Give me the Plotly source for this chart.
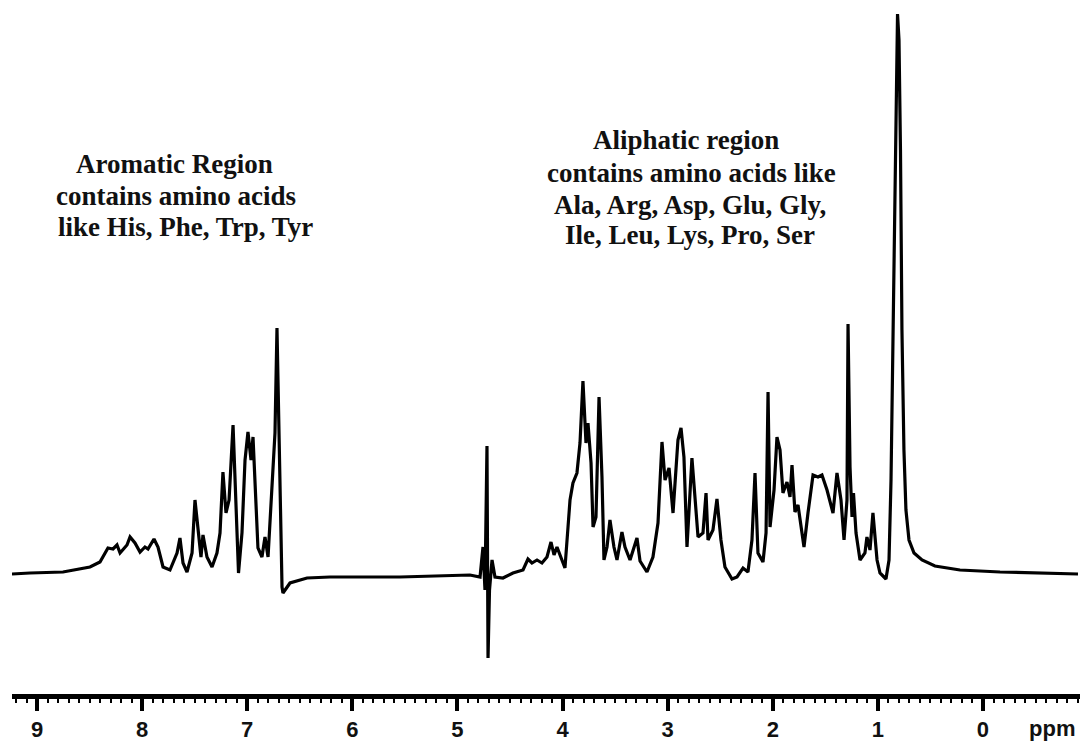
import plotly.graph_objects as go

# Chemical shift (ppm) and signal intensity (arbitrary units, baseline ~0)
ppm = [9.238, 9.067, 8.753, 8.496, 8.401, 8.325, 8.277, 8.239, 8.210, 8.144,
       8.115, 8.068, 8.020, 7.973, 7.944, 7.887, 7.849, 7.801, 7.735, 7.668,
       7.640, 7.611, 7.573, 7.525, 7.497, 7.468, 7.440, 7.421, 7.383, 7.335,
       7.288, 7.259, 7.231, 7.202, 7.173, 7.135, 7.097, 7.083, 7.050, 7.021,
       6.993, 6.964, 6.945, 6.926, 6.898, 6.860, 6.831, 6.802, 6.774, 6.736,
       6.717, 6.698, 6.669, 6.660, 6.593, 6.431, 6.213, 5.547, 4.881, 4.785,
       4.757, 4.738, 4.719, 4.709, 4.695, 4.671, 4.643, 4.567, 4.472, 4.376,
       4.329, 4.291, 4.243, 4.196, 4.148, 4.110, 4.081, 4.053, 4.005, 3.977,
       3.948, 3.929, 3.901, 3.863, 3.834, 3.806, 3.777, 3.758, 3.729, 3.710,
       3.682, 3.653, 3.625, 3.606, 3.577, 3.549, 3.511, 3.482, 3.435, 3.406,
       3.358, 3.292, 3.263, 3.197, 3.140, 3.092, 3.054, 3.025, 2.987, 2.949,
       2.902, 2.873, 2.845, 2.816, 2.769, 2.740, 2.711, 2.664, 2.635, 2.616,
       2.569, 2.531, 2.493, 2.455, 2.388, 2.340, 2.283, 2.236, 2.198, 2.169,
       2.141, 2.093, 2.064, 2.045, 2.026, 1.988, 1.960, 1.931, 1.903, 1.865,
       1.836, 1.817, 1.789, 1.760, 1.703, 1.665, 1.617, 1.570, 1.532, 1.484,
       1.456, 1.427, 1.389, 1.351, 1.322, 1.294, 1.284, 1.265, 1.246, 1.232,
       1.208, 1.170, 1.123, 1.104, 1.075, 1.047, 1.008, 0.980, 0.923, 0.894,
       0.875, 0.856, 0.837, 0.823, 0.813, 0.799, 0.785, 0.771, 0.752, 0.733,
       0.704, 0.656, 0.580, 0.457, 0.219, -0.162, -0.542, -0.904]

intensity = [-2, -1, 0, 5, 10, 24, 23, 27, 19, 27,
             35, 29, 20, 25, 23, 33, 25, 5, 2, 19,
             34, 9, 0, 19, 72, 39, 15, 37, 15, 5,
             19, 39, 100, 59, 72, 147, 39, -1, 39, 112,
             140, 112, 135, 85, 24, 15, 35, 15, 72, 139,
             244, 139, -15, -21, -11, -6, -5, -5, -3, -5,
             25, -18, 126, -86, -18, 12, -5, -6, -1, 2,
             13, 9, 12, 9, 15, 30, 17, 25, 12, 4,
             45, 72, 89, 99, 129, 191, 129, 149, 109, 45,
             55, 175, 95, 12, 25, 52, 25, 12, 40, 25,
             12, 34, 11, 0, 15, 49, 130, 92, 104, 59,
             132, 144, 115, 25, 114, 75, 35, 39, 79, 32,
             42, 73, 32, 5, -7, -5, 4, 0, 32, 99,
             19, 10, 39, 180, 45, 82, 135, 122, 79, 90,
             75, 107, 60, 67, 25, 59, 97, 95, 97, 82,
             72, 59, 99, 72, 32, 72, 248, 105, 55, 79,
             39, 12, 19, 35, 22, 59, 12, -1, -7, 12,
             92, 242, 422, 532, 558, 532, 422, 242, 122, 62,
             32, 19, 12, 6, 2, 0, -1, -2]

tick_vals = [9, 8, 7, 6, 5, 4, 3, 2, 1, 0]
tick_text = ["9", "8", "7", "6", "5", "4", "3", "2", "1", "0"]

aromatic_lines = ["Aromatic Region", "contains amino acids", "like His, Phe, Trp, Tyr"]
aliphatic_lines = ["Aliphatic region", "contains amino acids like",
                   "Ala, Arg, Asp, Glu, Gly,", "Ile, Leu, Lys, Pro, Ser"]

W, H = 1080, 745
ML, MR, MT, MB = 12, 0, 0, 51
PW, PH = W - ML - MR, H - MT - MB


def px(x):
    return (x - ML) / PW


def py(y):
    return (H - MB - y) / PH


fig = go.Figure()
fig.add_trace(go.Scatter(
    x=ppm, y=intensity, mode="lines",
    line=dict(color="black", width=3.2),
    hoverinfo="skip", showlegend=False,
))

annotations = []
text_font = dict(family="Liberation Serif", size=27, color="#111111")
for txt, cx, cy in zip(aromatic_lines, [174, 176, 185], [164, 196, 227]):
    annotations.append(dict(text="<b>" + txt + "</b>", x=px(cx), y=py(cy),
                            xref="paper", yref="paper", showarrow=False,
                            xanchor="center", yanchor="middle", font=text_font))
for txt, cx, cy in zip(aliphatic_lines, [686, 691, 690, 690], [140, 173, 205, 235]):
    annotations.append(dict(text="<b>" + txt + "</b>", x=px(cx), y=py(cy),
                            xref="paper", yref="paper", showarrow=False,
                            xanchor="center", yanchor="middle", font=text_font))
annotations.append(dict(text="<b>ppm</b>", x=px(1052), y=py(728),
                        xref="paper", yref="paper", showarrow=False,
                        xanchor="center", yanchor="middle",
                        font=dict(family="Liberation Sans", size=22, color="#111111")))

fig.update_layout(
    width=W, height=H,
    margin=dict(l=ML, r=MR, t=MT, b=MB),
    paper_bgcolor="white", plot_bgcolor="white",
    annotations=annotations,
    xaxis=dict(
        range=[9.238, -0.923], showgrid=False, zeroline=False,
        showline=True, linewidth=5, linecolor="black",
        ticks="outside", ticklen=12, tickwidth=4, tickcolor="black",
        tickvals=tick_vals, ticktext=["<b>" + t + "</b>" for t in tick_text],
        tickfont=dict(family="Liberation Sans", size=22, color="#111111"),
        minor=dict(dtick=0.1, ticks="outside", ticklen=4, tickwidth=2,
                   tickcolor="black", showgrid=False),
    ),
    yaxis=dict(range=[-122, 572], visible=False),
)

fig.write_html("out.html")
